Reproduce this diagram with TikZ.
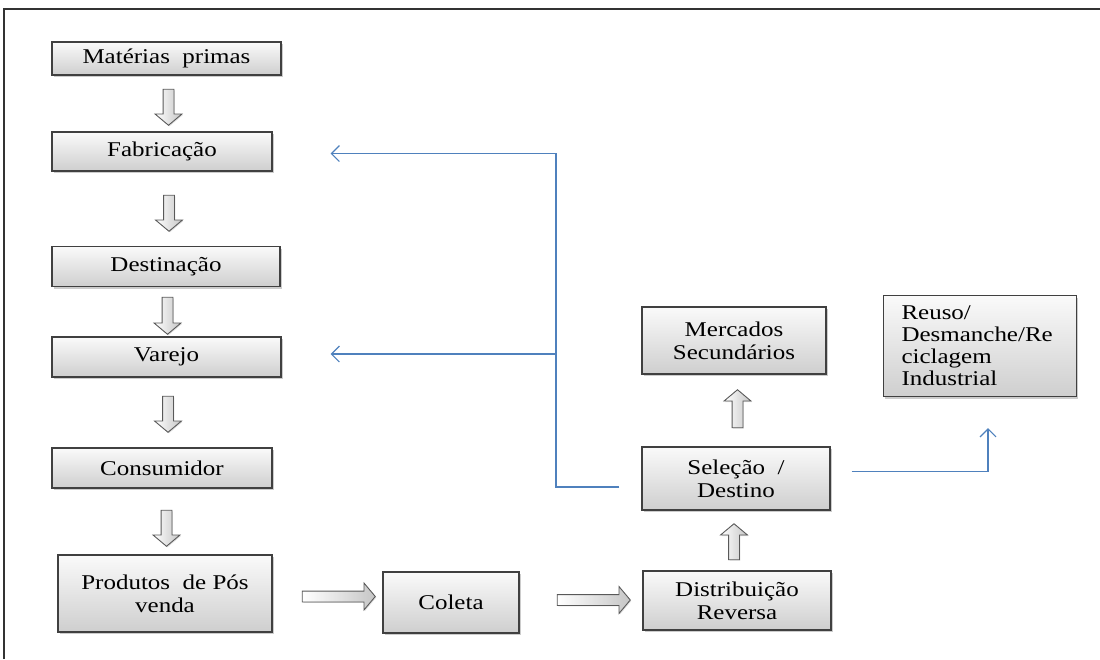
\documentclass[tikz,border=0pt]{standalone}
\usepackage{fontspec}
\setmainfont{Liberation Serif}[FakeStretch=1.19]
\usetikzlibrary{shapes.arrows,shadows,arrows.meta}

\definecolor{azul}{HTML}{4F81BD}

\begin{document}
\begin{tikzpicture}[x=1pt,y=-1pt,
    caixa/.style={draw=black!75, line width=1.1pt, top color=gray!4, bottom color=gray!38,
        drop shadow={opacity=0.4,shadow xshift=1.5pt,shadow yshift=-2pt},
        align=center, inner sep=2pt, font=\fontsize{21}{23}\selectfont},
    seta/.style={single arrow, draw=black!65, line width=0.9pt, left color=white, right color=gray!45,
        inner sep=5pt, single arrow head extend=8pt, single arrow tip angle=100, minimum height=#1,
        drop shadow={opacity=0.25,shadow xshift=1pt,shadow yshift=-1pt}},
    baixo/.style={seta=#1, shape border rotate=270},
    cima/.style={seta=#1, shape border rotate=90},
    fluxo/.style={draw=azul, line width=1.2pt}]

    \useasboundingbox (0,0) rectangle (1100,659);

    % frame
    \draw[black!80, line width=1.2pt] (4,659) -- (4,9) -- (1100,9);

    %Left column
    \node[caixa, minimum width=229pt, minimum height=33pt] (materias) at (166.5,58.5) {Matérias\ \ primas};
    \node[caixa, minimum width=220pt, minimum height=39pt] (fabricacao) at (162,151.5) {Fabricação};
    \node[caixa, minimum width=228pt, minimum height=40pt] (destinacao) at (166,266.5) {Destinação};
    \node[caixa, minimum width=229pt, minimum height=40pt] (varejo) at (166.5,357) {Varejo};
    \node[caixa, minimum width=220pt, minimum height=40pt] (consumidor) at (162,468) {Consumidor};
    \node[caixa, minimum width=214pt, minimum height=77pt] (produtos) at (165,593.5) {Produtos\ \ de Pós\\venda};

    \node[baixo=36pt] (s1) at (168.5,105) {};
    \node[baixo=36pt] (s2) at (169,211) {};
    \node[baixo=37pt] (s3) at (167.5,313.5) {};
    \node[baixo=36pt] (s4) at (168,412) {};
    \node[baixo=36pt] (s5) at (166.5,526) {};

    %Bottom row
    \node[caixa, minimum width=136pt, minimum height=61pt] (coleta) at (451,602.5) {Coleta};
    \node[caixa, minimum width=188pt, minimum height=59pt] (distribuicao) at (737,600.5) {Distribuição\\Reversa};
    \node[seta=73pt] (s6) at (336.5,596.5) {};
    \node[seta=73pt] (s7) at (591.5,600) {};

    %Right column
    \node[caixa, minimum width=188pt, minimum height=63pt] (selecao) at (736,478.5) {Seleção\ \ /\\Destino};
    \node[caixa, minimum width=184pt, minimum height=67pt] (mercados) at (734,340.5) {Mercados\\Secundários};
    \node[caixa, minimum width=193pt, minimum height=101pt, align=left, text width=157pt,
        font=\fontsize{21}{22}\selectfont] (reuso) at (980,346)
        {Reuso/\\Desmanche/Re\\ciclagem\\Industrial};
    \node[cima=36pt] (s8) at (734,544) {};
    \node[cima=38pt] (s9) at (737.5,411) {};

    %Return lines
    \coordinate (retorno) at (556,487);
    \coordinate (varejodir) at ([yshift=3pt]varejo.east);
    \draw[fluxo, shorten <=22pt, shorten >=58pt, -{Straight Barb[length=8pt,width=16pt]}]
        ([yshift=-8.5pt]selecao.west) -- (retorno) |- ([yshift=-2pt]fabricacao.east);
    \draw[fluxo, shorten >=49pt, -{Straight Barb[length=8pt,width=16pt]}]
        (retorno |- varejodir) -- (varejodir);
    \draw[fluxo, shorten <=21pt, shorten >=31pt, -{Straight Barb[length=8pt,width=16pt]}]
        ([yshift=7pt]selecao.east) -| ([xshift=8pt]reuso.south);
\end{tikzpicture}
\end{document}
